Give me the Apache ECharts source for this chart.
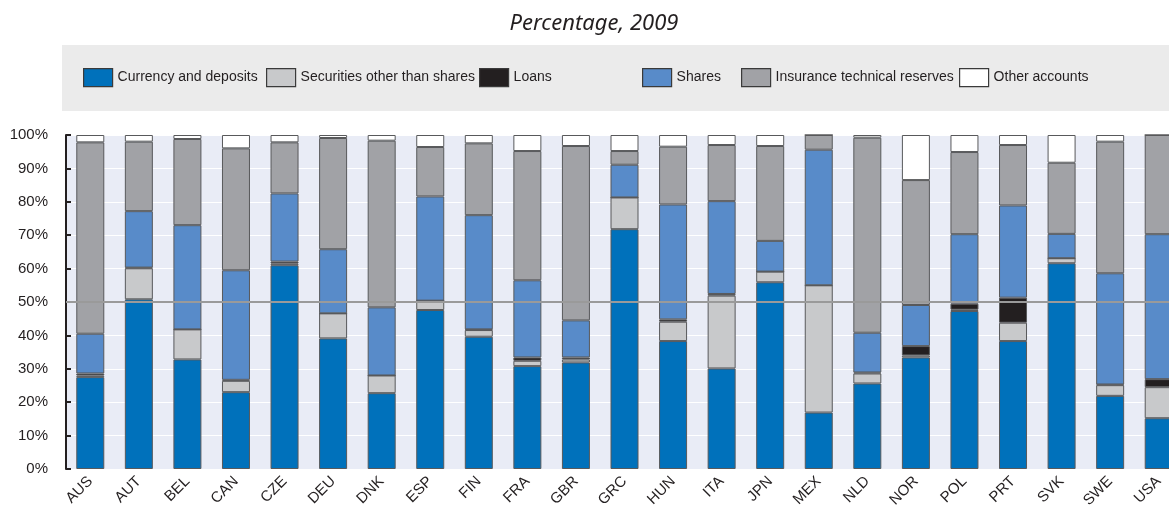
<!DOCTYPE html>
<html>
<head>
<meta charset="utf-8">
<script src="https://cdn.jsdelivr.net/npm/echarts@6/dist/echarts.min.js"></script>
<style>html,body{margin:0;padding:0;background:#fff;}#c{width:1169px;height:507px;}</style>
</head>
<body>
<div id="c"></div>
<script>
var categories = ['AUS','AUT','BEL','CAN','CZE','DEU','DNK','ESP','FIN','FRA','GBR','GRC','HUN','ITA','JPN','MEX','NLD','NOR','POL','PRT','SVK','SWE','USA'];
var currency   = [27.5,50.8,32.8,23.0,61.0,39.1,22.7,47.6,39.6,30.8,31.9,71.8,38.3,30.1,55.9,16.9,25.6,33.4,47.3,38.3,61.6,21.9,15.2];
var securities = [0.5, 9.3, 9.0, 3.4, 0.5, 7.5, 5.3, 2.8, 2.0, 1.6, 0.9, 9.5, 5.8,21.8, 3.2,38.1, 3.0, 0.6, 0.4, 5.5, 1.5, 3.2, 9.3];
var loans      = [0.6, 0.2, 0.0, 0.3, 0.6, 0.0, 0.0, 0.0, 0.2, 1.0, 0.6, 0.0, 0.7, 0.5, 0.0, 0.0, 0.3, 2.8, 1.8, 7.5, 0.0, 0.2, 2.4];
var shares     = [11.9,16.9,31.2,32.8,20.4,19.2,20.4,31.2,34.2,23.1,11.1, 9.8,34.4,27.8, 9.2,40.6,11.9,12.3,20.8,27.6, 7.3,33.3,43.4];
var insurance  = [57.3,20.8,25.8,36.5,15.3,33.3,49.9,14.8,21.5,38.7,52.2, 4.1,17.3,16.8,28.4, 4.4,58.4,37.4,24.6,18.1,21.3,39.4,29.7];
var other      = [2.2, 2.0, 1.2, 4.0, 2.2, 0.9, 1.7, 3.6, 2.5, 4.8, 3.3, 4.8, 3.5, 3.0, 3.3, 0.0, 0.8,13.5, 5.1, 3.0, 8.3, 2.0, 0.0];
var yTicks = [0,10,20,30,40,50,60,70,80,90,100];
var seriesNames = ['Currency and deposits','Securities other than shares','Loans','Shares','Insurance technical reserves','Other accounts'];
var seriesColors = ['#0071bb','#c8c9cb','#231f20','#588bc9','#a1a2a6','#ffffff'];
var seriesData = [currency, securities, loans, shares, insurance, other];
var legendLefts = [83, 266, 479, 642, 741, 959];

var chart = echarts.init(document.getElementById('c'));
var series = seriesData.map(function (d, i) {
  var s = {
    name: seriesNames[i],
    type: 'bar',
    stack: 'total',
    barWidth: 28,
    data: d,
    itemStyle: { color: seriesColors[i], borderColor: '#58595b', borderWidth: 1 },
    emphasis: { disabled: true }
  };
  if (i === seriesData.length - 1) {
    s.markLine = {
      silent: true,
      symbol: 'none',
      label: { show: false },
      lineStyle: { color: '#9a9a9a', width: 2, type: 'solid' },
      data: [{ yAxis: 50 }]
    };
  }
  return s;
});

var legends = seriesNames.map(function (n, i) {
  return {
    left: legendLefts[i], top: 68, padding: 0,
    itemWidth: 29, itemHeight: 18,
    icon: 'rect',
    textStyle: { fontFamily: '"Liberation Sans", Arial, sans-serif', fontSize: 14, color: '#231f20' },
    itemStyle: { borderColor: '#3a3a3a', borderWidth: 1.2 },
    data: [n]
  };
});

chart.setOption({
  animation: false,
  graphic: [
    { type: 'rect', left: 62, top: 45, shape: { width: 1120, height: 66 }, style: { fill: '#ebebeb' }, z: -10 },
    { type: 'text', x: 594, y: 24, style: { text: 'Percentage, 2009', font: 'italic 22px "Noto Sans"', fill: '#231f20', textAlign: 'center', textVerticalAlign: 'middle' } }
  ],
  legend: legends,
  grid: { left: 66, right: -14, top: 135, bottom: 38, show: true, backgroundColor: '#e9ecf6', borderWidth: 0, containLabel: false, outerBoundsMode: 'none' },
  xAxis: {
    type: 'category',
    data: categories,
    axisLine: { show: false },
    axisTick: { show: false },
    axisLabel: { rotate: 45, fontSize: 15, fontFamily: '"Liberation Sans", Arial, sans-serif', color: '#231f20', margin: 10, interval: 0 }
  },
  yAxis: {
    type: 'value',
    min: 0, max: 100, interval: 10,
    axisLine: { show: true, lineStyle: { color: '#231f20', width: 2 } },
    axisTick: { show: true, inside: true, length: 5, lineStyle: { color: '#231f20', width: 2 } },
    axisLabel: { formatter: function (v) { return yTicks.indexOf(v) >= 0 ? v + '%' : ''; }, fontSize: 15, fontFamily: '"Liberation Sans", Arial, sans-serif', color: '#231f20', margin: 18 },
    splitLine: { show: true, lineStyle: { color: '#ffffff', width: 1 } }
  },
  series: series
});
</script>
</body>
</html>
